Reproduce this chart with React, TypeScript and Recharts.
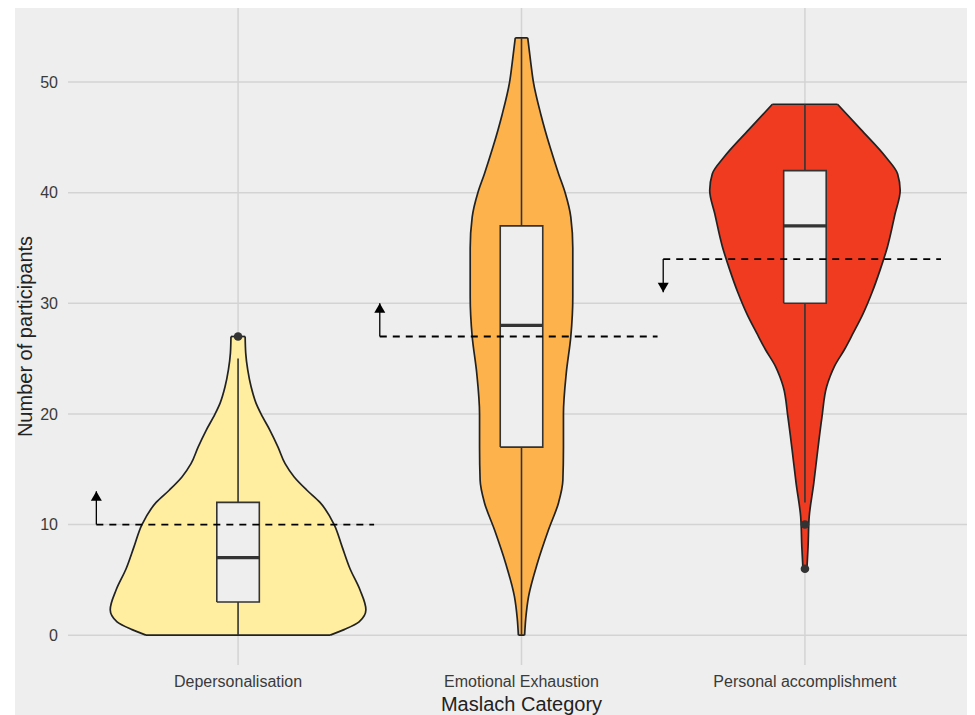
import { Area, ComposedChart, Line, ReferenceLine, Scatter, XAxis, YAxis } from "recharts";

const categories = ["Depersonalisation", "Emotional Exhaustion", "Personal accomplishment"];
const xTicks = [1, 2, 3];
const yTicks = [0, 10, 20, 30, 40, 50];

// Violin outlines: participant counts and the density half-width (category units) there.
const depLevels = [0, 0.5, 1.2, 2.3, 4.1, 6, 8, 10, 12, 13.1, 14.3, 15.5, 17, 18.5, 20, 21, 22.45, 24, 25.5, 27];
const depHalfWidth = [0.325, 0.374, 0.427, 0.451, 0.43, 0.395, 0.367, 0.339, 0.289, 0.243, 0.198, 0.166, 0.141, 0.113, 0.081, 0.063, 0.046, 0.034, 0.027, 0.025];

const eeLevels = [0, 1.5, 3.5, 6.5, 9.5, 12, 14, 17, 20, 23.7, 27, 30.6, 35, 37.8, 40, 41.7, 44.1, 47.1, 50, 51.7, 54];
const eeHalfWidth = [0.011, 0.015, 0.025, 0.056, 0.095, 0.131, 0.146, 0.148, 0.148, 0.158, 0.174, 0.181, 0.181, 0.174, 0.154, 0.131, 0.101, 0.068, 0.042, 0.033, 0.022];

const paLevels = [6, 8, 10.7, 13.7, 16.7, 19.7, 22.5, 23.4, 24.3, 25.8, 27.3, 29, 31, 33, 35.1, 38.1, 40.2, 41.7, 43.2, 45.7, 48];
const paHalfWidth = [0.007, 0.011, 0.015, 0.031, 0.045, 0.06, 0.077, 0.089, 0.104, 0.139, 0.17, 0.204, 0.237, 0.265, 0.291, 0.318, 0.336, 0.327, 0.286, 0.198, 0.115];

// Box plot stats per category
const whiskerLow = [0, 0, 12];
const q1 = [3, 17, 30];
const medians = [7, 28, 37];
const q3 = [12, 37, 42];
const whiskerHigh = [25, 54, 48];
const outliers = [[27], [], [10, 6]];

// Cut-off score per category and where its arrow points
const cutoffs = [10, 27, 34];
const arrowTips = [13, 30, 31];

const violinFills = ["#FFEDA0", "#FEB24C", "#F03B20"];
const outline = "#222222";
const gridColor = "#d3d3d3";
const boxHalf = 0.075;

const violinSets = [
  [depLevels, depHalfWidth],
  [eeLevels, eeHalfWidth],
  [paLevels, paHalfWidth],
];

const violins = violinSets.map(([levels, half], i) => {
  const c = i + 1;
  const last = levels.length - 1;
  return {
    band: levels.map((y, j) => ({ y, span: [c - half[j], c + half[j]] })),
    caps: [
      [{ y: levels[0], x: c - half[0] }, { y: levels[0], x: c + half[0] }],
      [{ y: levels[last], x: c - half[last] }, { y: levels[last], x: c + half[last] }],
    ],
  };
});

const boxes = categories.map((_, i) => {
  const c = i + 1;
  return {
    fill: [
      { y: q1[i], span: [c - boxHalf, c + boxHalf] },
      { y: q3[i], span: [c - boxHalf, c + boxHalf] },
    ],
    edge: [
      { y: q1[i], x: c - boxHalf },
      { y: q1[i], x: c + boxHalf },
      { y: q3[i], x: c + boxHalf },
      { y: q3[i], x: c - boxHalf },
      { y: q1[i], x: c - boxHalf },
    ],
    median: [{ y: medians[i], x: c - boxHalf }, { y: medians[i], x: c + boxHalf }],
    lower: [{ y: whiskerLow[i], x: c }, { y: q1[i], x: c }],
    upper: [{ y: q3[i], x: c }, { y: whiskerHigh[i], x: c }],
  };
});

const outlierPoints = outliers.flatMap((vals, i) => vals.map((y) => ({ x: i + 1, y })));

const cutoffLines = cutoffs.map((y, i) => [{ y, x: i + 0.5 }, { y, x: i + 1.48 }]);
const stems = cutoffs.map((y, i) => [{ y, x: i + 0.5 }, { y: arrowTips[i], x: i + 0.5 }]);
const upTips = arrowTips.flatMap((y, i) => (y > cutoffs[i] ? [{ x: i + 0.5, y }] : []));
const downTips = arrowTips.flatMap((y, i) => (y < cutoffs[i] ? [{ x: i + 0.5, y }] : []));

const ArrowUp = (props: any) => {
  const { cx, cy } = props;
  return <path d={`M${cx},${cy} L${cx - 5.5},${cy + 9.5} L${cx + 5.5},${cy + 9.5} Z`} fill="#000" />;
};

const ArrowDown = (props: any) => {
  const { cx, cy } = props;
  return <path d={`M${cx},${cy} L${cx - 5.5},${cy - 9.5} L${cx + 5.5},${cy - 9.5} Z`} fill="#000" />;
};

const Dot = (props: any) => <circle cx={props.cx} cy={props.cy} r={4.3} fill="#333" />;

const segment = (data: { x: number; y: number }[], key: string, extra: any = {}) => (
  <Line
    key={key}
    data={data}
    dataKey="x"
    type="linear"
    stroke="#333"
    strokeWidth={1.6}
    dot={false}
    activeDot={false}
    isAnimationActive={false}
    {...extra}
  />
);

export default function App() {
  return (
    <div
      style={{
        marginLeft: 7,
        width: 960,
        height: 707,
        background: "#eeeeee",
        fontFamily: '"Liberation Sans", Arial, sans-serif',
      }}
    >
      <ComposedChart width={960} height={707} layout="vertical" margin={{ top: 0, right: 0, bottom: 0, left: 0 }}>
        {/* panel grid, kept underneath the violins */}
        {yTicks.map((t) => (
          <ReferenceLine key={`gy-${t}`} y={t} stroke={gridColor} strokeWidth={1.5} zIndex={-100} />
        ))}
        {xTicks.map((t) => (
          <ReferenceLine key={`gx-${t}`} x={t} stroke={gridColor} strokeWidth={1.5} zIndex={-100} />
        ))}
        <XAxis
          type="number"
          dataKey="x"
          domain={[0.4, 3.6]}
          allowDataOverflow
          ticks={xTicks}
          interval={0}
          tickFormatter={(v: number) => categories[v - 1]}
          axisLine={false}
          tickLine={false}
          tickMargin={5}
          height={50}
          tick={{ fill: "#3a3a3a", fontSize: 16 }}
          label={{ value: "Maslach Category", position: "insideBottom", offset: 4, fill: "#222", fontSize: 20 }}
        />
        <YAxis
          type="number"
          dataKey="y"
          domain={[-2.7, 56.7]}
          allowDataOverflow
          reversed
          ticks={yTicks}
          interval={0}
          axisLine={false}
          tickLine={false}
          tickMargin={4}
          width={53}
          tick={{ fill: "#3a3a3a", fontSize: 16 }}
          label={{
            value: "Number of participants",
            angle: -90,
            position: "insideLeft",
            offset: 10,
            fill: "#222",
            fontSize: 20,
            style: { textAnchor: "middle" },
          }}
        />

        {violins.map((v, i) => (
          <Area
            key={`violin-${i}`}
            data={v.band}
            dataKey="span"
            type="monotone"
            fill={violinFills[i]}
            fillOpacity={1}
            stroke={outline}
            strokeWidth={1.7}
            dot={false}
            activeDot={false}
            isAnimationActive={false}
          />
        ))}
        {boxes.map((b, i) => (
          <Area
            key={`box-${i}`}
            data={b.fill}
            dataKey="span"
            type="linear"
            fill="#eeeeee"
            fillOpacity={1}
            stroke="none"
            dot={false}
            activeDot={false}
            isAnimationActive={false}
          />
        ))}

        {violins.flatMap((v, i) => v.caps.map((cap, j) => segment(cap, `cap-${i}-${j}`, { stroke: outline, strokeWidth: 1.7 })))}
        {boxes.map((b, i) => segment(b.lower, `lower-${i}`))}
        {boxes.map((b, i) => segment(b.upper, `upper-${i}`))}
        {boxes.map((b, i) => segment(b.edge, `edge-${i}`))}
        {boxes.map((b, i) => segment(b.median, `median-${i}`, { strokeWidth: 3.2 }))}
        {cutoffLines.map((d, i) => segment(d, `cut-${i}`, { stroke: "#000", strokeWidth: 1.8, strokeDasharray: "7 6" }))}
        {stems.map((d, i) => segment(d, `stem-${i}`, { stroke: "#000", strokeWidth: 1.3 }))}

        <Scatter data={outlierPoints} shape={Dot} isAnimationActive={false} />
        <Scatter data={upTips} shape={ArrowUp} isAnimationActive={false} />
        <Scatter data={downTips} shape={ArrowDown} isAnimationActive={false} />
      </ComposedChart>
    </div>
  );
}
